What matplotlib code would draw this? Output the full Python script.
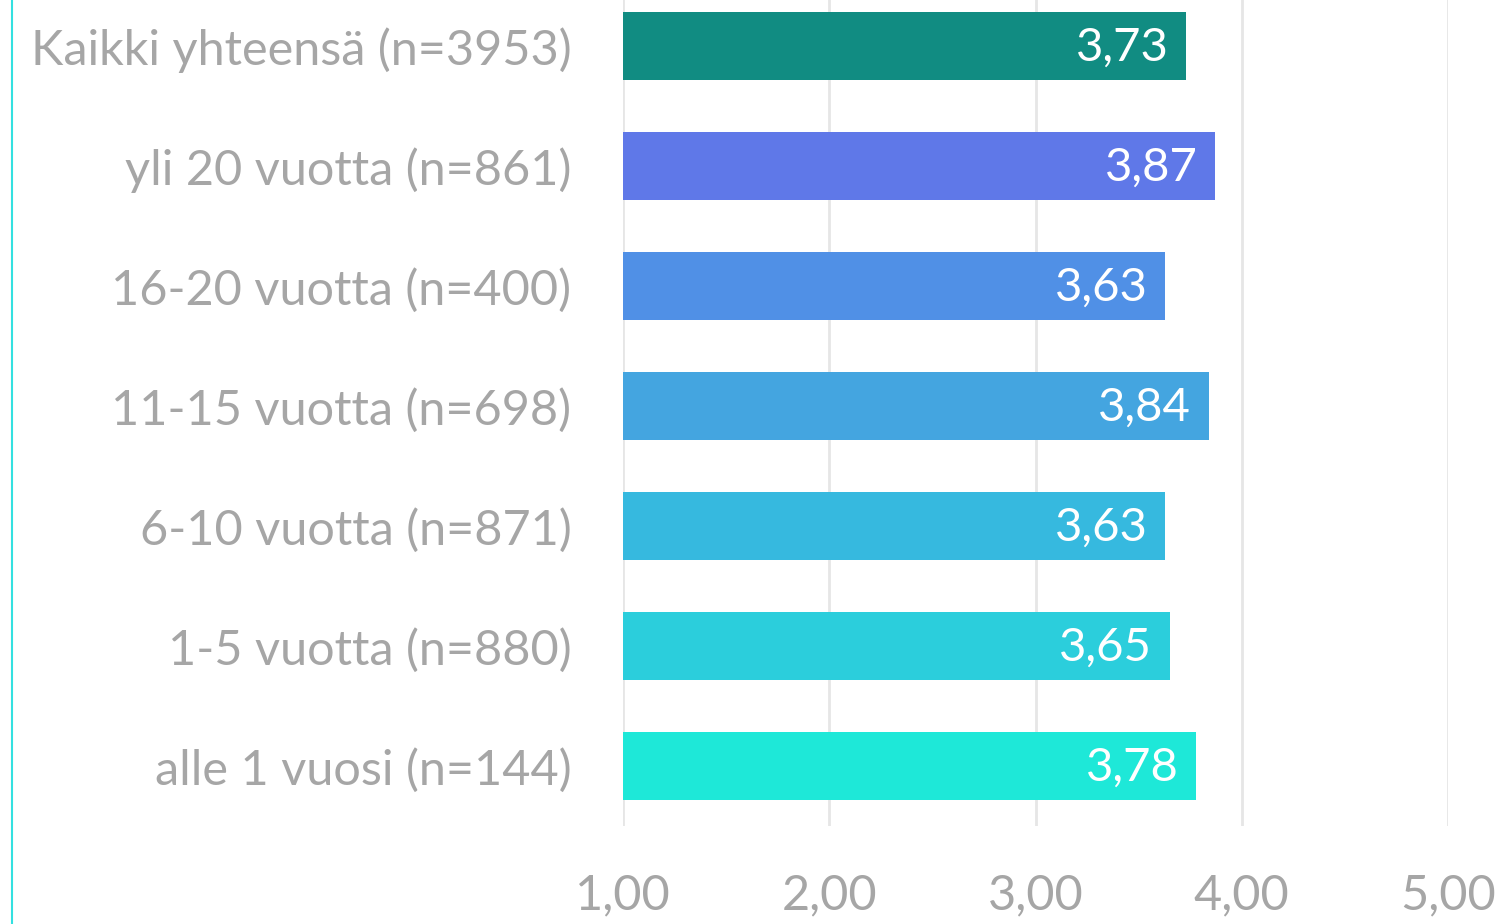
import matplotlib.pyplot as plt
from matplotlib.lines import Line2D

# Tiedot
luokat = ["Kaikki yhteensä (n=3953)", "yli 20 vuotta (n=861)", "16-20 vuotta (n=400)",
          "11-15 vuotta (n=698)", "6-10 vuotta (n=871)", "1-5 vuotta (n=880)",
          "alle 1 vuosi (n=144)"]
arvot = [3.73, 3.87, 3.63, 3.84, 3.63, 3.65, 3.78]
varit = ["#118C82", "#5F78E8", "#5090E6", "#44A5E0", "#36B9DF", "#2BCEDC", "#1EE8D8"]
x_tikit = [1, 2, 3, 4, 5]

plt.rcParams['font.family'] = ['Lato', 'DejaVu Sans']
harmaa = "#A6A6A6"

fig = plt.figure(figsize=(15.06, 9.24), dpi=100)
ax = fig.add_axes([623 / 1506, 98 / 924, 825 / 1506, 840 / 924])

y = list(range(len(luokat)))
ax.barh(y, [a - 1 for a in arvot], left=1, height=0.57, color=varit, zorder=2)

for yi, a in zip(y, arvot):
    ax.text(a - 0.085, yi + 0.01, f"{a:.2f}".replace(".", ","), ha="right", va="center",
            color="white", fontsize=34, zorder=3)

ax.set_xlim(1, 5)
ax.set_ylim(len(luokat) - 0.5, -0.5)
ax.set_xticks(x_tikit)
ax.set_xticklabels([f"{t:.2f}".replace(".", ",") for t in x_tikit], color=harmaa, fontsize=35)
ax.set_yticks(y)
ax.set_yticklabels(luokat, color=harmaa, fontsize=35)
ax.tick_params(axis="y", length=0, pad=37)
ax.tick_params(axis="x", length=0, pad=34)
ax.grid(axis="x", color="#E6E6E6", linewidth=2, zorder=0)
for s in ax.spines.values():
    s.set_visible(False)

# Vasen reunaviiva
fig.add_artist(Line2D([12 / 1506, 12 / 1506], [0, 1], color="#33E0E0", linewidth=1.5))

fig.savefig("out.png", dpi=100)
